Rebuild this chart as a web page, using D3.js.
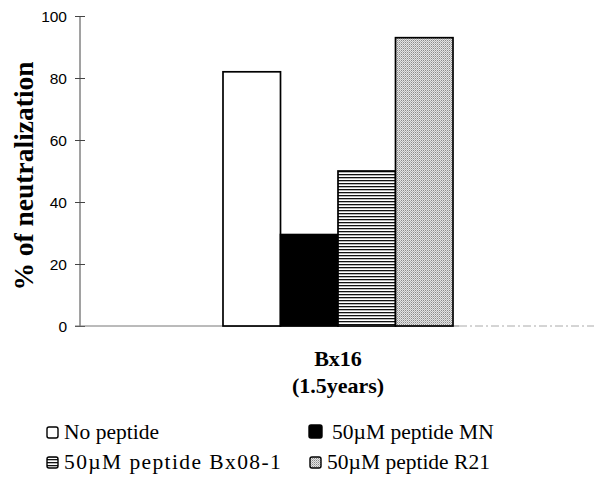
<!DOCTYPE html>
<html>
<head>
<meta charset="utf-8">
<script src="https://cdn.jsdelivr.net/npm/d3@7"></script>
<style>
  body { margin: 0; background: #fff; }
  svg { display: block; }
  .serif { font-family: 'Liberation Serif', 'Times New Roman', Times, serif; }
  .sans { font-family: 'Liberation Sans', Arial, Helvetica, sans-serif; }
</style>
</head>
<body>
<svg id="chart"></svg>
<script>
const categories = ['Bx16'];
const subLabels = ['(1.5years)'];
const seriesNames = ['No peptide', '50\u00b5M peptide MN', '50\u00b5M peptide Bx08-1', '50\u00b5M peptide R21'];
const seriesValues = [82, 29.5, 50, 93];
const yTicks = [0, 20, 40, 60, 80, 100];

const width = 594, height = 486;
const margin = { top: 16, right: -2, bottom: 160, left: 80 };

const svg = d3.select('#chart').attr('width', width).attr('height', height);
const defs = svg.append('defs');

// horizontal stripes
const stripes = defs.append('pattern')
  .attr('id', 'stripes').attr('patternUnits', 'userSpaceOnUse')
  .attr('width', 6).attr('height', 3);
stripes.append('rect').attr('width', 6).attr('height', 3).attr('fill', '#fff');
stripes.append('rect').attr('y', 0).attr('width', 6).attr('height', 1.3).attr('fill', '#111');

// grey stipple
const dots = defs.append('pattern')
  .attr('id', 'dots').attr('patternUnits', 'userSpaceOnUse')
  .attr('width', 2).attr('height', 2);
dots.append('rect').attr('width', 2).attr('height', 2).attr('fill', '#e4e4e4');
dots.append('rect').attr('width', 1).attr('height', 1).attr('fill', '#8a8a8a');
dots.append('rect').attr('x', 1).attr('y', 1).attr('width', 1).attr('height', 1).attr('fill', '#b5b5b5');

const fills = ['#fff', '#000', 'url(#stripes)', 'url(#dots)'];

const x0 = d3.scaleBand().domain(categories)
  .range([margin.left, width - margin.right]).paddingInner(0).paddingOuter(0.6217);
const x1 = d3.scaleBand().domain(seriesNames).range([0, x0.bandwidth()]).padding(0);
const y = d3.scaleLinear().domain([0, 100]).range([height - margin.bottom, margin.top]);

// y axis
const yAxis = svg.append('g')
  .attr('transform', `translate(${margin.left},0)`)
  .call(d3.axisLeft(y).tickValues(yTicks).tickSize(5).tickPadding(8));
yAxis.attr('font-family', null).attr('font-size', null);
yAxis.select('.domain').attr('stroke', '#444').attr('d', `M0,${y(100)}V${y(0)}`);
yAxis.selectAll('.tick line').attr('x1', -5).attr('x2', 5).attr('stroke', '#444');
yAxis.selectAll('.tick text')
  .attr('class', 'sans')
  .style('font-size', '15.5px').attr('fill', '#000').attr('dy', '0.34em');

// x axis line
const barsEnd = x0(categories[0]) + x0.bandwidth();
svg.append('line')
  .attr('x1', margin.left - 5).attr('x2', barsEnd + 6)
  .attr('y1', y(0)).attr('y2', y(0)).attr('stroke', '#777').attr('stroke-width', 1);
svg.append('line')
  .attr('x1', barsEnd + 6).attr('x2', width)
  .attr('y1', y(0)).attr('y2', y(0)).attr('stroke', '#aaa')
  .attr('stroke-width', 1).attr('stroke-dasharray', '8,3,2,3');

// bars
const group = svg.append('g').attr('transform', `translate(${x0(categories[0])},0)`);
group.selectAll('rect')
  .data(seriesValues)
  .join('rect')
  .attr('x', (d, i) => x1(seriesNames[i]))
  .attr('y', d => y(d))
  .attr('width', x1.bandwidth())
  .attr('height', d => y(0) - y(d))
  .attr('fill', (d, i) => fills[i])
  .attr('stroke', '#000')
  .attr('stroke-width', 1.7);

// category labels
const cx = x0(categories[0]) + x0.bandwidth() / 2;
svg.append('text').attr('class', 'serif').attr('x', cx).attr('y', 366)
  .attr('text-anchor', 'middle')
  .style('font-weight', 'bold').style('font-size', '22px')
  .text(categories[0]);
svg.append('text').attr('class', 'serif').attr('x', cx).attr('y', 393)
  .attr('text-anchor', 'middle')
  .style('font-weight', 'bold').style('font-size', '22px')
  .text(subLabels[0]);

// y label
svg.append('text').attr('class', 'serif')
  .attr('transform', 'translate(33,176) rotate(-90)')
  .attr('text-anchor', 'middle')
  .style('font-weight', 'bold').style('font-size', '27.5px')
  .text('% of neutralization');

// legend
const legendPos = [
  { bx: 47, tx: 64, y: 439, s: 11, ls: 0 },
  { bx: 309, tx: 332, y: 439, s: 13, ls: 0 },
  { bx: 47, tx: 64, y: 469, s: 11, ls: 1.4 },
  { bx: 310, tx: 327, y: 469, s: 11, ls: 0 }
];
const legend = svg.append('g');
const items = legend.selectAll('g').data(seriesNames).join('g');
items.append('rect')
  .attr('x', (d, i) => legendPos[i].bx)
  .attr('y', (d, i) => legendPos[i].y - legendPos[i].s - 1)
  .attr('width', (d, i) => legendPos[i].s)
  .attr('height', (d, i) => legendPos[i].s)
  .attr('rx', 2)
  .attr('fill', (d, i) => fills[i])
  .attr('stroke', '#000').attr('stroke-width', 1.4);
items.append('text').attr('class', 'serif')
  .attr('x', (d, i) => legendPos[i].tx)
  .attr('y', (d, i) => legendPos[i].y)
  .style('font-size', '21.5px')
  .style('letter-spacing', (d, i) => legendPos[i].ls + 'px')
  .text(d => d);
</script>
</body>
</html>
